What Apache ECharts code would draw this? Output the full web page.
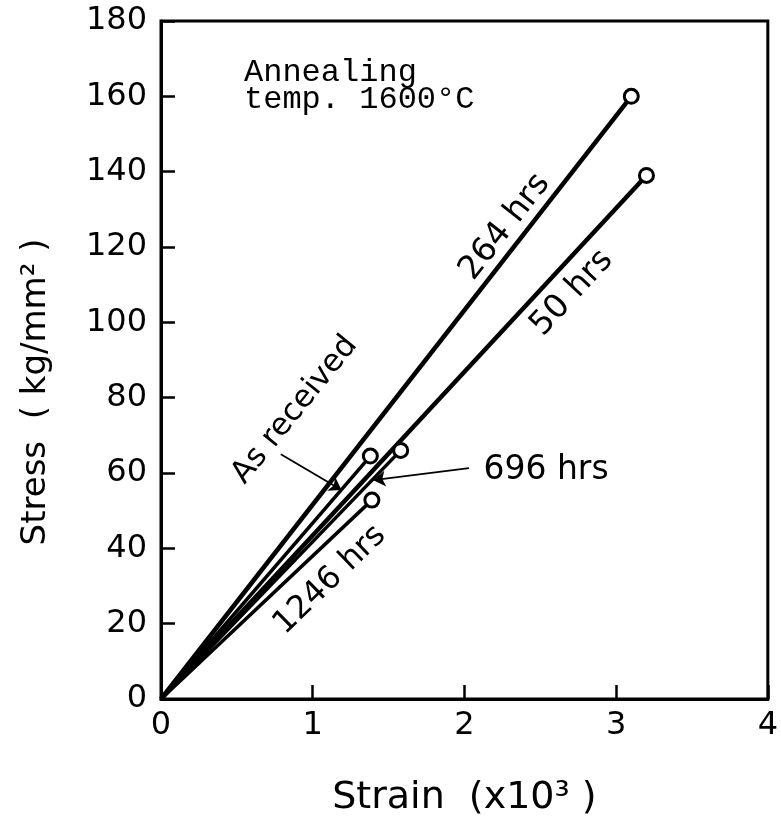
<!DOCTYPE html>
<html>
<head>
<meta charset="utf-8">
<script src="https://cdn.jsdelivr.net/npm/echarts@6/dist/echarts.min.js"></script>
<style>
  html, body { margin: 0; padding: 0; background: #fff; }
  #main { width: 781px; height: 826px; }
</style>
</head>
<body>
<div id="main"></div>
<script>
// end points of each curve, all start at the origin
var asReceived = [[0, 0], [1.38, 64.5]];
var hrs50 = [[0, 0], [3.2, 139]];
var hrs264 = [[0, 0], [3.1, 160]];
var hrs696 = [[0, 0], [1.58, 66]];
var hrs1246 = [[0, 0], [1.39, 52.8]];

var xTicks = [0, 1, 2, 3, 4];
var yTicks = [0, 20, 40, 60, 80, 100, 120, 140, 160, 180];

// arrows pointing at the crowded lines
var arrowAsReceived = [[0.79, 65.0], [1.19, 55.5]];
var arrow696 = [[2.03, 61.3], [1.40, 58.1]];

var font = "DejaVu Sans";

function curve(name, pts, width) {
    return {
        name: name,
        type: "line",
        data: pts.map(function (p, i) {
            return { value: p, symbol: i === 0 ? "none" : "circle" };
        }),
        symbolSize: 14,
        lineStyle: { color: "#000", width: width },
        itemStyle: { color: "#fff", borderColor: "#000", borderWidth: 3 },
        z: 3
    };
}

function arrow(pts) {
    return [
        { coord: pts[0], symbol: "none" },
        { coord: pts[1], symbol: "arrow" }
    ];
}

function rotText(text, x, y, deg, size) {
    return {
        type: "text",
        x: x,
        y: y,
        rotation: deg * Math.PI / 180,
        style: {
            text: text,
            font: size + "px " + font,
            fill: "#000",
            align: "center",
            verticalAlign: "middle"
        }
    };
}

var myChart = echarts.init(document.getElementById("main"));

var option = {
    animation: false,
    backgroundColor: "#fff",
    grid: {
        left: 161, right: 10, top: 21, bottom: 127,
        show: true, borderColor: "#000", borderWidth: 3
    },
    xAxis: {
        type: "value",
        min: xTicks[0],
        max: xTicks[xTicks.length - 1],
        interval: 1,
        name: "Strain  (x10³ )",
        nameLocation: "middle",
        nameGap: 80,
        nameTextStyle: { fontFamily: font, fontSize: 38, color: "#000" },
        axisLine: { lineStyle: { color: "#000", width: 3 } },
        axisTick: { inside: true, length: 14, lineStyle: { width: 2.5 } },
        axisLabel: { fontFamily: font, fontSize: 32, color: "#000", margin: 11 },
        splitLine: { show: false }
    },
    yAxis: {
        type: "value",
        min: yTicks[0],
        max: yTicks[yTicks.length - 1],
        interval: 20,
        axisLine: { lineStyle: { color: "#000", width: 3 } },
        axisTick: { inside: true, length: 14, lineStyle: { width: 2.5 } },
        axisLabel: { fontFamily: font, fontSize: 32, color: "#000", margin: 14 },
        splitLine: { show: false }
    },
    series: [
        curve("264 hrs", hrs264, 4.5),
        curve("50 hrs", hrs50, 4.5),
        curve("As received", asReceived, 3.5),
        curve("696 hrs", hrs696, 3.5),
        curve("1246 hrs", hrs1246, 3.5),
        {
            type: "line",
            data: [],
            silent: true,
            markLine: {
                silent: true,
                symbolSize: 12,
                label: { show: false },
                lineStyle: { color: "#000", width: 1.8, type: "solid" },
                data: [arrow(arrowAsReceived), arrow(arrow696)]
            }
        }
    ],
    graphic: [
        {
            type: "text",
            left: 244,
            top: 57,
            style: {
                text: "Annealing\ntemp. 1600°C",
                font: "32px 'Liberation Mono'",
                lineHeight: 27,
                fill: "#000"
            }
        },
        // y axis title sits a bit below the middle of the axis in the original
        rotText("Stress  ( kg/mm² )", 36, 392, 90, 34),
        rotText("264 hrs", 505, 227, 52, 33),
        rotText("50 hrs", 572, 293, 47, 33),
        rotText("As received", 295, 410, 51, 31),
        rotText("1246 hrs", 330, 580, 44, 32),
        rotText("696 hrs", 546, 470, 0, 33)
    ]
};

myChart.setOption(option);
</script>
</body>
</html>
